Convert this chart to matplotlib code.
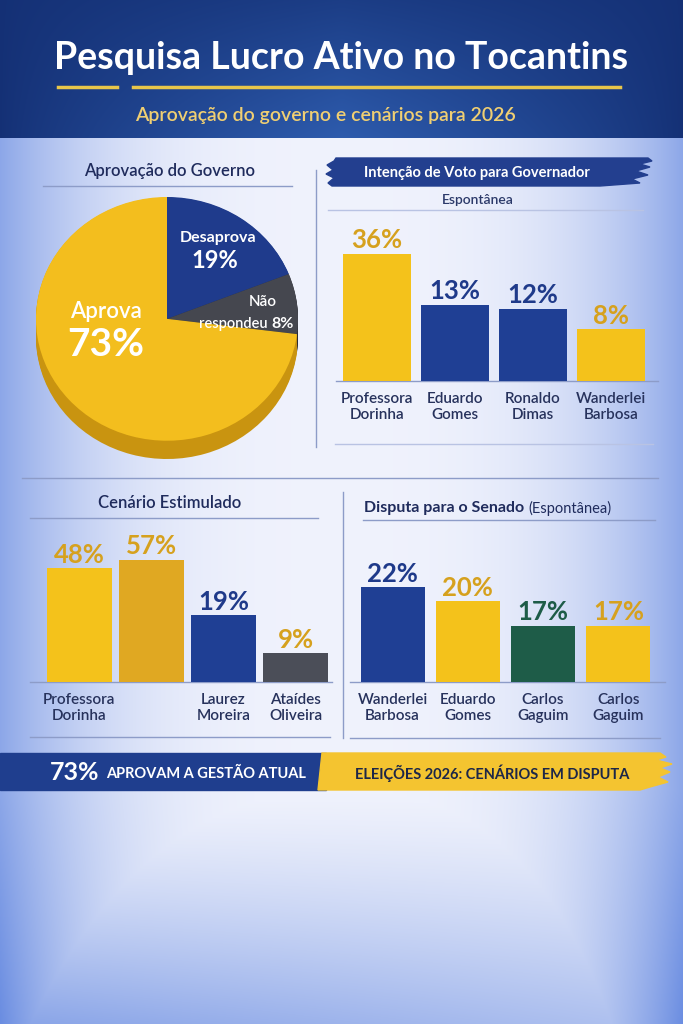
import numpy as np
import matplotlib
matplotlib.use("Agg")
from matplotlib import pyplot as plt
from matplotlib.patches import Polygon, Rectangle

plt.rcParams['font.family'] = ['Lato', 'DejaVu Sans']

W, H = 683, 1024

# --- data ---
pie_labels = ["Desaprova", "Não respondeu", "Aprova"]
pie_values = [19, 8, 73]

gov_names = ["Professora\nDorinha", "Eduardo\nGomes", "Ronaldo\nDimas", "Wanderlei\nBarbosa"]
gov_values = [36, 13, 12, 8]

est_names = ["Professora\nDorinha", "", "Laurez\nMoreira", "Ataídes\nOliveira"]
est_values = [48, 57, 19, 9]

sen_names = ["Wanderlei\nBarbosa", "Eduardo\nGomes", "Carlos\nGaguim", "Carlos\nGaguim"]
sen_values = [22, 20, 17, 17]

# --- colours ---
YEL = '#f4c21b'
GOLD2 = '#e0a822'
NAVY = '#1f3f94'
GRAY = '#4b4e58'
GREEN = '#1e5c48'
TXT_GOLD = '#d6a11e'
TXT_NAVY = '#1f3a8a'
DARK = '#1f2b5c'
LINE = '#8d9cc8'

fig = plt.figure(figsize=(W / 100, H / 100), dpi=100)
bg = fig.add_axes([0, 0, 1, 1])
bg.set_xlim(0, W)
bg.set_ylim(H, 0)
bg.axis('off')


def px_axes(x0, y0, x1, y1):
    return fig.add_axes([x0 / W, 1 - y1 / H, (x1 - x0) / W, (y1 - y0) / H])


def ftext(x, y, s, **kw):
    # text on top of every axes, placed in pixel coords
    return fig.text(x, y, s, transform=bg.transData, **kw)


# background gradient
yy, xx = np.mgrid[0:H, 0:W]
xn = xx / W
light = np.array([0.94, 0.95, 0.99])
blue = np.array([0.40, 0.54, 0.88])
low = np.clip((yy - 790) / 234, 0, 1)
edge = np.clip(np.abs(xn - 0.5) * 2, 0, 1) ** 3 * (0.72 + 0.25 * low)
bottom = low ** 1.3 * (0.75 - 0.3 * xn)
t = np.clip(np.maximum(edge, bottom), 0, 1)
img = light * (1 - t[..., None]) + blue * t[..., None]
c1 = np.array([0.08, 0.19, 0.46])
c2 = np.array([0.18, 0.36, 0.68])
th = (1 - np.abs(xn - 0.5) * 2) ** 0.8 * (0.3 + 0.7 * yy / 138)
hdr = np.clip(c1 * (1 - th[..., None]) + c2 * th[..., None], 0, 1)
img[:138] = hdr[:138]
bg.imshow(img, extent=[0, W, H, 0], aspect='auto', zorder=0)

# header
bg.text(341, 58, "Pesquisa Lucro Ativo no Tocantins", ha='center', va='center',
        color='white', fontsize=27, fontweight='bold')
bg.plot([58, 117], [87, 87], color='#e8c64a', lw=2.5)
bg.plot([133, 620], [87, 87], color='#e8c64a', lw=2.5)
bg.text(325, 115, "Aprovação do governo e cenários para 2026", ha='center', va='center',
        color='#f0cf72', fontsize=14, fontweight='semibold')

# --- pie ---
pax = px_axes(36, 197, 298, 459)
pie_colors = ['#1f3b8c', '#45474f', '#f3be1e']
side_colors = ['#142a66', '#2b2c32', '#c99410']
depth = 0.15
for k in np.linspace(depth, 0.005, 14):
    pax.pie(pie_values, colors=side_colors, startangle=90, counterclock=False,
            center=(0, -k), wedgeprops=dict(linewidth=0))
pax.pie(pie_values, colors=pie_colors, startangle=90, counterclock=False,
        wedgeprops=dict(linewidth=0))
pax.set_aspect('auto')
pax.set_xlim(-1, 1)
pax.set_ylim(-1 - depth, 1)

ftext(218, 238, pie_labels[0], ha='center', va='center', color='white', fontsize=11.5, fontweight='bold')
ftext(215, 260, f"{pie_values[0]}%", ha='center', va='center', color='white', fontsize=17, fontweight='bold')
ftext(263, 302, "Não", ha='center', va='center', color='white', fontsize=11, fontweight='semibold')
ftext(268, 324, "respondeu", ha='right', va='center', color='white', fontsize=10.5, fontweight='semibold')
ftext(271, 324, f"{pie_values[1]}%", ha='left', va='center', color='white', fontsize=11.5, fontweight='bold')
ftext(106, 312, pie_labels[2], ha='center', va='center', color='white', fontsize=16, fontweight='semibold')
ftext(106, 345, f"{pie_values[2]}%", ha='center', va='center', color='white', fontsize=28, fontweight='bold')

bg.text(170, 171, "Aprovação do Governo", ha='center', va='center', color=DARK, fontsize=12, fontweight='semibold')
bg.plot([43, 292], [186, 186], color=LINE, lw=1)
bg.plot([316, 316], [170, 447], color=LINE, lw=1)

# banner for governor panel
banner = [(336, 158), (648, 158), (652, 161), (640, 164), (650, 167), (636, 171), (648, 175),
          (632, 179), (640, 183), (600, 186), (332, 186), (328, 183), (334, 178), (326, 174),
          (333, 170), (327, 165), (334, 161)]
bg.add_patch(Polygon(banner, closed=True, color='#233f8f', zorder=2))
bg.text(477, 173, "Intenção de Voto para Governador", ha='center', va='center', color='white',
        fontsize=10.5, fontweight='bold', zorder=3)
bg.text(478, 200, "Espontânea", ha='center', va='center', color='#2c3a6a', fontsize=10, fontweight='semibold')
bg.plot([328, 643], [210, 210], color='#b9c3e3', lw=1)


def bar_panel(rect, names, values, colors, txtcolors, ylim, width):
    ax = px_axes(*rect)
    x = np.arange(len(values))
    b0 = ylim[0]
    ax.bar(x, np.array(values) - b0, bottom=b0, width=width, color=colors, zorder=2)
    ax.set_yscale('log')
    ax.set_ylim(*ylim)
    ax.set_xlim(-0.5, len(values) - 0.5)
    ax.axis('off')
    for xi, v, tc in zip(x, values, txtcolors):
        ax.annotate(f"{v}%", (xi, v), xytext=(0, 1), textcoords='offset points', ha='center',
                    va='bottom', color=tc, fontsize=18.5, fontweight='bold', annotation_clip=False)
    for xi, n in zip(x, names):
        ax.annotate(n, (xi, b0), xytext=(0, -8), textcoords='offset points', ha='center',
                    va='top', color='#27325c', fontsize=11, fontweight='semibold',
                    linespacing=1.2, annotation_clip=False)
    return ax


bar_panel((338, 210, 650, 381), gov_names, gov_values,
          [YEL, NAVY, NAVY, YEL], [TXT_GOLD, TXT_NAVY, TXT_NAVY, TXT_GOLD], (2.83, 86.5), 0.86)
bg.plot([336, 658], [381, 381], color=LINE, lw=1)
bg.plot([335, 653], [444, 444], color='#b9c3e3', lw=1)

bg.plot([22, 658], [478, 478], color=LINE, lw=1)

# estimulado
bg.text(170, 503, "Cenário Estimulado", ha='center', va='center', color=DARK, fontsize=12, fontweight='semibold')
bg.plot([30, 318], [518, 518], color=LINE, lw=1)
bar_panel((43, 518, 332, 682), est_names, est_values,
          [YEL, GOLD2, NAVY, GRAY], [TXT_GOLD, TXT_GOLD, TXT_NAVY, TXT_GOLD], (5.07, 130), 0.9)
bg.plot([30, 332], [682, 682], color=LINE, lw=1)
bg.plot([30, 330], [737, 737], color=LINE, lw=1)
bg.plot([343, 343], [492, 738], color=LINE, lw=1)

# senado
bg.text(364, 508, "Disputa para o Senado", ha='left', va='center', color=DARK, fontsize=11.5, fontweight='bold')
bg.text(528, 508, "(Espontânea)", ha='left', va='center', color=DARK, fontsize=10.5)
bg.plot([363, 655], [520, 520], color=LINE, lw=1)
bar_panel((355, 520, 656, 682), sen_names, sen_values,
          [NAVY, YEL, GREEN, YEL], [TXT_NAVY, TXT_GOLD, GREEN, TXT_GOLD], (11.7, 34.3), 0.85)
bg.plot([350, 665], [682, 682], color=LINE, lw=1)
bg.plot([350, 660], [738, 738], color=LINE, lw=1)

# bottom banner
bg.add_patch(Rectangle((0, 753), 326, 37, color='#1f3e8e', zorder=2))
ybrush = [(322, 753), (660, 753), (666, 757), (656, 760), (672, 764), (660, 768), (670, 772),
          (658, 777), (668, 782), (650, 787), (640, 790), (318, 790)]
bg.add_patch(Polygon(ybrush, closed=True, color='#f4c430', zorder=2))
bg.text(50, 773, "73%", ha='left', va='center', color='white', fontsize=18, fontweight='bold', zorder=3)
bg.text(106, 774, "APROVAM A GESTÃO ATUAL", ha='left', va='center', color='white',
        fontsize=10.5, fontweight='bold', zorder=3)
bg.text(492, 773, "ELEIÇÕES 2026: CENÁRIOS EM DISPUTA", ha='center', va='center', color='#1d2748',
        fontsize=10.5, fontweight='bold', zorder=3)

fig.savefig("out.png", dpi=100)
